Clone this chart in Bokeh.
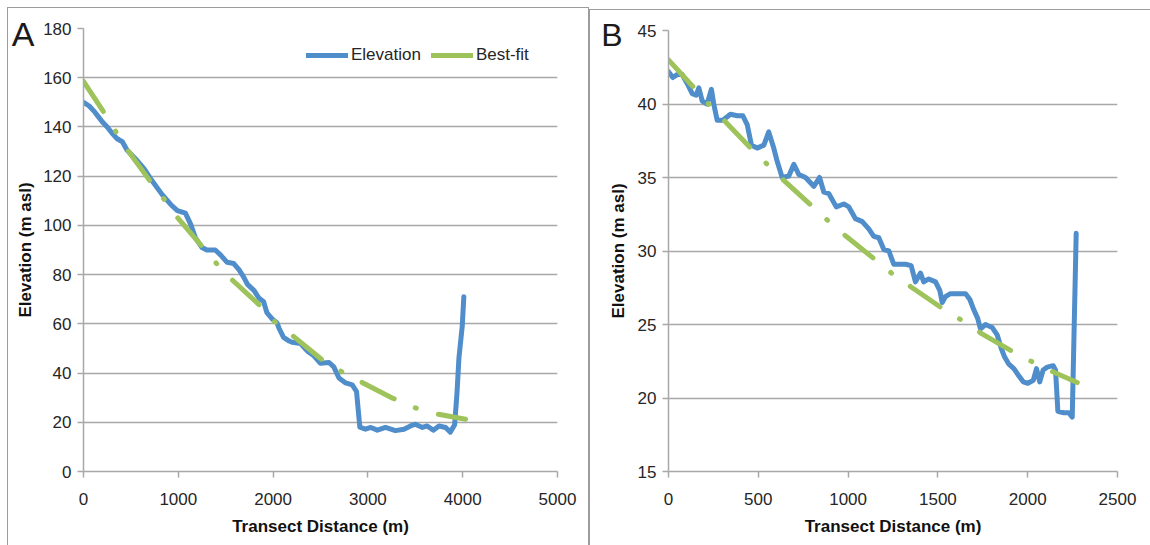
from bokeh.plotting import figure
from bokeh.layouts import row
from bokeh.models import Range1d, FixedTicker, Legend, LegendItem, LinearAxis
from bokeh.embed import file_html
from bokeh.resources import INLINE

# ---------------- Transect A ----------------
a_dist = [0, 60, 120, 160, 200, 250, 300, 355, 410, 460,
          550, 640, 725, 830, 920, 990, 1075, 1130, 1180, 1250,
          1300, 1390, 1445, 1515, 1585, 1640, 1690, 1730, 1800, 1850,
          1900, 1935, 1990, 2040, 2065, 2110, 2170, 2200, 2290, 2360,
          2430, 2500, 2590, 2640, 2695, 2765, 2835, 2880, 2915, 2975,
          3030, 3100, 3185, 3290, 3380, 3450, 3500, 3575, 3625, 3690,
          3750, 3820, 3870, 3915, 3940, 3960, 3995, 4012]
a_elev = [150, 148.5, 146, 144, 142, 140, 137.5, 135.2, 134, 130.5,
          127, 123, 118, 112.5, 108.5, 106, 105, 100.5, 95, 91,
          90, 90, 88, 85, 84.5, 82, 79, 76, 73.5, 70.5,
          69, 64.5, 62, 60.5, 58, 54.5, 53, 52.5, 52, 49,
          47, 44, 44.3, 42.5, 38, 36, 35.2, 32.5, 18, 17.2,
          17.9, 16.8, 17.9, 16.6, 17.2, 18.5, 19.2, 17.9, 18.5, 16.8,
          18.5, 17.9, 16, 19, 32, 46, 59, 71]
a_fit_dist = [0, 239, 355, 478, 725, 865, 999, 1263, 1403, 1550,
              1867, 2008, 2184, 2500, 2693, 2887, 3256, 3449, 3660, 4030]
a_fit_elev = [158.5, 144.5, 137.2, 129.9, 116.8, 109.9, 102.8, 90.9, 84.5, 78.5,
              67.2, 61.2, 55.9, 45.9, 41.2, 37.2, 29.9, 26.5, 23.9, 21.2]
a_xticks = [0, 1000, 2000, 3000, 4000, 5000]
a_yticks = [0, 20, 40, 60, 80, 100, 120, 140, 160, 180]

# ---------------- Transect B ----------------
b_dist = [0, 24, 48, 76, 104, 132, 154, 169, 188, 215,
          239, 252, 271, 302, 345, 383, 414, 438, 462, 494,
          531, 558, 586, 605, 633, 670, 698, 726, 763, 809,
          841, 865, 893, 934, 976, 1004, 1041, 1079, 1115, 1143,
          1171, 1199, 1227, 1254, 1282, 1320, 1351, 1375, 1403, 1421,
          1449, 1487, 1511, 1524, 1542, 1570, 1607, 1654, 1678, 1700,
          1722, 1737, 1765, 1802, 1830, 1852, 1871, 1895, 1923, 1945,
          1975, 2001, 2031, 2049, 2067, 2086, 2109, 2142, 2155, 2168,
          2201, 2229, 2248, 2270]
b_elev = [42.2, 41.8, 42.0, 42.0, 41.4, 40.7, 40.6, 41.1, 40.2, 40.0,
          41.0, 40.0, 38.9, 38.9, 39.3, 39.2, 39.2, 38.6, 37.2, 37.0,
          37.2, 38.1, 37.0, 36.1, 35.0, 35.1, 35.9, 35.2, 35.0, 34.4,
          35.0, 34.0, 33.9, 33.0, 33.2, 33.0, 32.2, 32.0, 31.5, 31.0,
          30.9, 30.1, 30.0, 29.1, 29.1, 29.1, 29.0, 27.9, 28.5, 27.9,
          28.1, 27.9, 27.3, 26.5, 26.9, 27.1, 27.1, 27.1, 26.7, 26.0,
          25.4, 24.7, 25.0, 24.8, 24.3, 23.4, 22.8, 22.3, 22.0, 21.6,
          21.1, 21.0, 21.2, 22.0, 21.1, 21.9, 22.1, 22.2, 21.9, 19.1,
          19.0, 19.0, 18.7, 31.2]
b_fit_dist = [0, 150, 230, 308, 470, 558, 642, 809, 898, 989,
              1162, 1251, 1351, 1542, 1644, 1741, 1938, 2043, 2155, 2276]
b_fit_elev = [43.0, 41.0, 39.9, 38.9, 36.85, 35.8, 34.8, 32.95, 31.95, 31.0,
              29.3, 28.4, 27.55, 25.95, 25.2, 24.4, 23.0, 22.35, 21.7, 21.05]
b_xticks = [0, 500, 1000, 1500, 2000, 2500]
b_yticks = [15, 20, 25, 30, 35, 40, 45]

FONT = "Liberation Sans"
BLUE = "#4f8dcb"
GREEN = "#9dc35a"
GRID = "#a8a8a8"
FRAME = "#9c9c9c"
FIT_DASH = "36 23 1 23"
NAN = float("nan")


def panel(width, height, borders, margin, xr, yr, xticks, yticks,
          letter, letter_y, letter_size, letter_standoff, title_standoff):
    left, right, top, bottom = borders
    p = figure(width=width, height=height, output_backend="svg",
               toolbar_location=None,
               x_range=Range1d(*xr), y_range=Range1d(*yr),
               min_border_left=left, min_border_right=right,
               min_border_top=top, min_border_bottom=bottom,
               margin=margin,
               styles={"outline": f"1px solid {FRAME}"})
    p.outline_line_color = None
    p.background_fill_color = "white"
    p.border_fill_color = "white"

    p.xgrid.visible = False
    p.ygrid.ticker = FixedTicker(ticks=yticks)
    p.ygrid.grid_line_color = GRID
    p.ygrid.grid_line_width = 1.5

    p.xaxis.ticker = FixedTicker(ticks=xticks)
    p.yaxis.ticker = FixedTicker(ticks=yticks)
    for ax in (p.xaxis[0], p.yaxis[0]):
        ax.axis_line_color = GRID
        ax.axis_line_width = 1.5
        ax.major_tick_line_color = GRID
        ax.major_tick_line_width = 1.5
        ax.major_tick_out = 6
        ax.major_tick_in = 0
        ax.minor_tick_line_color = None
        ax.major_label_text_font = FONT
        ax.major_label_text_font_size = "17px"
        ax.major_label_text_color = "#262626"
    p.xaxis.major_label_standoff = 15
    p.yaxis.major_label_standoff = 6
    p.xaxis.axis_label = "Transect Distance (m)"
    p.xaxis.axis_label_standoff = 9
    p.xaxis.axis_label_text_font = FONT
    p.xaxis.axis_label_text_font_size = "17px"
    p.xaxis.axis_label_text_font_style = "bold"
    p.xaxis.axis_label_text_color = "#111111"

    # outer left axis: carries the panel letter and the y-axis title
    outer = LinearAxis(ticker=FixedTicker(ticks=[letter_y]),
                       major_label_overrides={letter_y: letter},
                       axis_line_color=None, major_tick_line_color=None,
                       minor_tick_line_color=None,
                       major_tick_out=0, major_tick_in=0,
                       major_label_standoff=letter_standoff,
                       major_label_text_font=FONT,
                       major_label_text_font_size=letter_size,
                       major_label_text_color="#1a1a1a",
                       axis_label="Elevation (m asl)",
                       axis_label_standoff=title_standoff,
                       axis_label_text_font=FONT,
                       axis_label_text_font_size="17px",
                       axis_label_text_font_style="bold",
                       axis_label_text_color="#111111")
    p.add_layout(outer, "left")
    return p


# Panel A
pa = panel(580, 537, (75, 31, 20, 67), (8, 0, 0, 8),
           (0, 5000), (0, 180), a_xticks, a_yticks,
           "A", 177.8, "34px", 6, -26)
pa.line(a_dist, a_elev, line_color=BLUE, line_width=5,
        line_join="round", line_cap="round")
pa.line(a_fit_dist, a_fit_elev, line_color=GREEN, line_width=5,
        line_dash=FIT_DASH, line_cap="round")
# solid swatches for the legend (no visible data)
leg_elev = pa.line([NAN, NAN], [NAN, NAN], line_color=BLUE, line_width=5,
                   line_cap="round")
leg_fit = pa.line([NAN, NAN], [NAN, NAN], line_color=GREEN, line_width=5,
                  line_cap="round")
legend = Legend(items=[LegendItem(label="Elevation", renderers=[leg_elev]),
                       LegendItem(label="Best-fit", renderers=[leg_fit])],
                orientation="horizontal", location=(223, 406),
                glyph_width=42, glyph_height=20, label_height=20,
                label_standoff=3, spacing=10, padding=0, margin=0,
                border_line_color=None, background_fill_alpha=0,
                label_text_font=FONT, label_text_font_size="17px",
                label_text_color="#262626")
pa.add_layout(legend, "center")

# Panel B
pb = panel(560, 535, (78, 33, 19, 74), (10, 0, 0, 2),
           (0, 2500), (15, 45), b_xticks, b_yticks,
           "B", 44.66, "32px", 12, -30)
pb.line(b_dist, b_elev, line_color=BLUE, line_width=5,
        line_join="round", line_cap="round")
pb.line(b_fit_dist, b_fit_elev, line_color=GREEN, line_width=5,
        line_dash=FIT_DASH, line_cap="round")

layout = row(pa, pb)
open("out.html", "w").write(file_html(layout, INLINE))
